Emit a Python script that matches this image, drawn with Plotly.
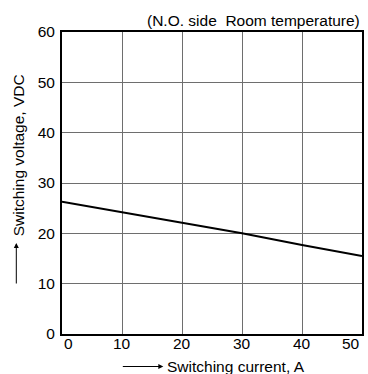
import plotly.graph_objects as go

current_a = [0, 10, 20, 30, 40, 50]
voltage_vdc = [26.3, 24.2, 22.1, 20.0, 17.7, 15.5]
x_ticks = [0, 10, 20, 30, 40, 50]
x_tick_labels = ["0", "10", "20", "30", "40", "50"]
y_ticks = [0, 10, 20, 30, 40, 50, 60]
title_text = "(N.O. side  Room temperature)"
x_title = "Switching current, A"
y_title = "Switching voltage, VDC"

W, H = 368, 374
L, R, T, B = 62, 4, 32, 40
pw, ph = W - L - R, H - T - B

def px(xp):
    return (xp - L) / pw

def py(yp):
    return (H - B - yp) / ph

FS = 15.5
font = dict(family="Liberation Sans, Arial, sans-serif", size=FS, color="#000")

fig = go.Figure()
fig.add_trace(go.Scatter(x=current_a, y=voltage_vdc, mode="lines",
                         line=dict(color="#000", width=2), showlegend=False,
                         hoverinfo="skip"))

annotations = [
    dict(text=title_text, xref="paper", yref="paper", x=1, y=py(20.5),
         xanchor="right", yanchor="middle", showarrow=False, font=font),
    dict(text=x_title, xref="paper", yref="paper", x=px(166), y=py(366),
         xanchor="left", yanchor="middle", showarrow=False, font=font),
    dict(text="", xref="paper", yref="paper", x=px(164), y=py(366.5),
         ax=-42, ay=0, showarrow=True, arrowhead=2, arrowsize=1, arrowwidth=1,
         arrowcolor="#000"),
    dict(text=y_title, xref="paper", yref="paper", x=px(18), y=py(155),
         xanchor="center", yanchor="middle", textangle=-90, showarrow=False, font=font),
    dict(text="", xref="paper", yref="paper", x=px(16), y=py(243),
         ax=0, ay=42, showarrow=True, arrowhead=2, arrowsize=1, arrowwidth=1,
         arrowcolor="#000"),
]
for i, (v, t) in enumerate(zip(x_ticks, x_tick_labels)):
    anchor = "left" if i == 0 else ("right" if i == len(x_ticks) - 1 else "center")
    annotations.append(dict(text=t, xref="x", yref="y", x=v, y=0, xanchor=anchor,
                            yanchor="top", showarrow=False, font=font, yshift=1))

fig.update_layout(
    width=W, height=H,
    margin=dict(l=L, r=R, t=T, b=B, pad=0),
    paper_bgcolor="white", plot_bgcolor="white",
    font=font,
    xaxis=dict(range=[0, 50], tickvals=x_ticks, showticklabels=False, showgrid=True,
               gridcolor="#6e6e6e", gridwidth=1, showline=True, linecolor="#000",
               linewidth=2, mirror=True, ticks="", zeroline=False),
    yaxis=dict(range=[0, 60], tickvals=y_ticks, showgrid=True, gridcolor="#6e6e6e",
               gridwidth=1, showline=True, linecolor="#000", linewidth=2, mirror=True,
               ticks="", zeroline=False, tickfont=font, ticklabelstandoff=2),
    annotations=annotations,
)

fig.write_html("out.html", config={"displayModeBar": False},
               post_script="document.body.style.margin='0';document.body.style.overflow='hidden';")
